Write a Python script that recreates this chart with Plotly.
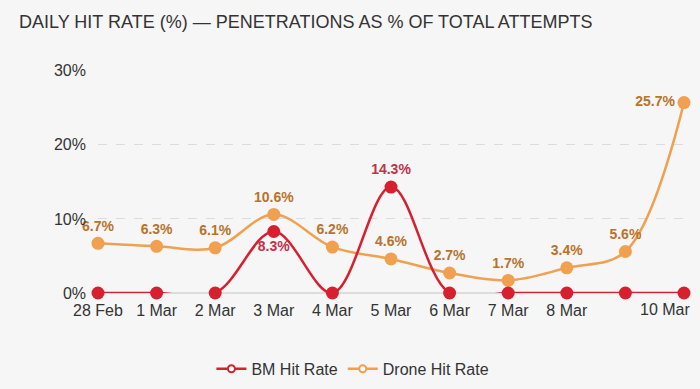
import plotly.graph_objects as go

dates = ["28 Feb", "1 Mar", "2 Mar", "3 Mar", "4 Mar", "5 Mar", "6 Mar", "7 Mar", "8 Mar", "9 Mar", "10 Mar"]
tick_dates = ["28 Feb", "1 Mar", "2 Mar", "3 Mar", "4 Mar", "5 Mar", "6 Mar", "7 Mar", "8 Mar"]
last_tick = "10 Mar"
bm_rate = [0, 0, 0, 8.3, 0, 14.3, 0, 0, 0, 0, 0]
drone_rate = [6.7, 6.3, 6.1, 10.6, 6.2, 4.6, 2.7, 1.7, 3.4, 5.6, 25.7]
y_ticks = [0, 10, 20, 30]
y_tick_text = ["0%", "10%", "20%", "30%"]

BM_COLOR = "#d7202f"
DRONE_COLOR = "#f0a04f"
BM_TEXT = "#c3304a"
DRONE_TEXT = "#b8732c"
BG = "#f6f6f6"

bm_text = [f"{v}%" if v > 0 else "" for v in bm_rate]
bm_pos = ["bottom center" if v < 10 else "top center" for v in bm_rate]
drone_text = [f"{v}%" for v in drone_rate]
drone_pos = ["middle left" if v > 20 else "top center" for v in drone_rate]

fig = go.Figure()
fig.add_trace(go.Scatter(
    x=dates, y=drone_rate, mode="lines+markers+text", name="Drone Hit Rate",
    line=dict(color=DRONE_COLOR, width=2.5, shape="spline", smoothing=1.0),
    marker=dict(color=DRONE_COLOR, size=13),
    text=drone_text, textposition=drone_pos,
    textfont=dict(color=DRONE_TEXT, size=14, family="Liberation Sans", weight="bold"),
    cliponaxis=False, showlegend=False,
))
fig.add_trace(go.Scatter(
    x=dates, y=bm_rate, mode="lines+markers+text", name="BM Hit Rate",
    line=dict(color=BM_COLOR, width=2.5, shape="spline", smoothing=1.0),
    marker=dict(color=BM_COLOR, size=13),
    text=bm_text, textposition=bm_pos,
    textfont=dict(color=BM_TEXT, size=14, family="Liberation Sans", weight="bold"),
    cliponaxis=False, showlegend=False,
))
# legend entries
fig.add_trace(go.Scatter(
    x=[None], y=[None], mode="lines+markers", name="BM Hit Rate",
    line=dict(color=BM_COLOR, width=2.5),
    marker=dict(color="white", size=7, line=dict(color=BM_COLOR, width=2)),
))
fig.add_trace(go.Scatter(
    x=[None], y=[None], mode="lines+markers", name="Drone Hit Rate",
    line=dict(color=DRONE_COLOR, width=2.5),
    marker=dict(color="white", size=7, line=dict(color=DRONE_COLOR, width=2)),
))

fig.update_layout(
    width=700, height=389,
    paper_bgcolor=BG, plot_bgcolor=BG,
    margin=dict(l=98, r=16, t=70, b=96, autoexpand=False),
    font=dict(family="Liberation Sans", color="#333333", size=16),
    legend=dict(orientation="h", x=0.435, xanchor="center", y=-0.34, yanchor="middle",
                font=dict(size=16, color="#333333"), itemwidth=30, traceorder="normal"),
    annotations=[
        dict(
            text="DAILY HIT RATE (%) — PENETRATIONS AS % OF TOTAL ATTEMPTS",
            xref="paper", yref="paper", x=-0.138, y=1.0, yshift=48,
            xanchor="left", yanchor="middle", showarrow=False,
            font=dict(size=18, color="#333333", family="Liberation Sans"),
        ),
        dict(
            text=last_tick, xref="x", yref="paper", x=last_tick, y=0,
            xanchor="right", yanchor="top", xshift=8, yshift=-6, showarrow=False,
            font=dict(size=16, color="#333333", family="Liberation Sans"),
        ),
    ],
)
fig.update_xaxes(
    type="category", range=[0, 10], showgrid=False, zeroline=False, showline=False,
    tickmode="array", tickvals=tick_dates, ticktext=tick_dates, automargin=False,
    tickfont=dict(size=16, color="#333333"), ticks="", ticklabelstandoff=6,
)
fig.update_yaxes(
    range=[0, 30.1], tickmode="array", tickvals=y_ticks, ticktext=y_tick_text,
    showgrid=True, gridcolor="#dcdcdc", griddash="dash", gridwidth=1, automargin=False,
    zeroline=True, zerolinecolor="#dddddd", zerolinewidth=1.5,
    tickfont=dict(size=16, color="#333333"), ticklabelstandoff=11,
)

fig.write_html(
    "out.html",
    config={"displayModeBar": False},
    post_script="document.body.style.margin='0';document.body.style.background='%s';" % BG,
)
